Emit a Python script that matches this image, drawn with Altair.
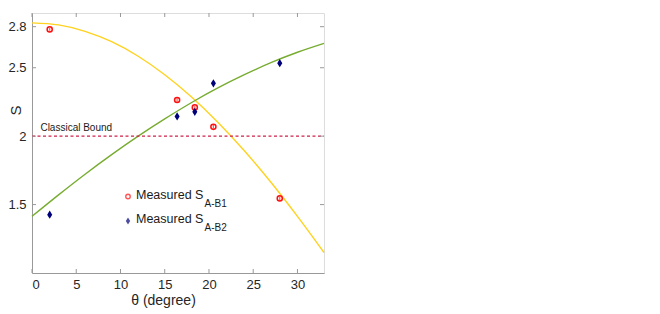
import altair as alt
import pandas as pd

# ---- data ----
theta_curve = [0, 3, 6, 9, 12, 15, 18, 21, 24, 27, 30, 33]
s_b1_curve = [2.828, 2.813, 2.766, 2.690, 2.584, 2.449, 2.288, 2.102, 1.893, 1.663, 1.414, 1.150]
s_b2_curve = [1.414, 1.571, 1.722, 1.865, 2.000, 2.126, 2.244, 2.352, 2.449, 2.537, 2.613, 2.678]

theta_meas = [2, 16.4, 18.4, 20.5, 28]
s_b1 = [2.78, 2.264, 2.21, 2.068, 1.545]
s_b1_err = [0.010, 0.013, 0.013, 0.013, 0.013]
s_b2 = [1.426, 2.144, 2.178, 2.386, 2.533]
s_b2_err = [0.013, 0.013, 0.013, 0.013, 0.013]

x_ticks = [0, 5, 10, 15, 20, 25, 30]
y_ticks = [1.5, 2, 2.5, 2.8]
classical_bound = 2

W, H = 292, 260
xs = alt.Scale(domain=[0, 33], nice=False, zero=False)
ys = alt.Scale(domain=[1, 2.9], nice=False, zero=False)

curves = pd.DataFrame({"theta": theta_curve, "b1": s_b1_curve, "b2": s_b2_curve})
meas = pd.DataFrame({
    "theta": theta_meas,
    "b1": s_b1, "b1_lo": [v - e for v, e in zip(s_b1, s_b1_err)], "b1_hi": [v + e for v, e in zip(s_b1, s_b1_err)],
    "b2": s_b2, "b2_lo": [v - e for v, e in zip(s_b2, s_b2_err)], "b2_hi": [v + e for v, e in zip(s_b2, s_b2_err)],
})
xt = pd.DataFrame({"t": x_ticks})
yt = pd.DataFrame({"t": y_ticks})
one = pd.DataFrame({"a": [0]})

x_axis = alt.Axis(values=x_ticks, tickSize=0, labelPadding=5, labelFontSize=13, labelColor="#262626",
                  domainColor="#999999", grid=False, title="θ (degree)", titleFontSize=14,
                  titleFontWeight="normal", titleColor="#262626", titleX=131, titleY=27,
                  titleBaseline="middle", titleAnchor="start", titleAlign="center", labelFont="Liberation Sans",
                  titleFont="Liberation Sans")
y_axis = alt.Axis(values=y_ticks, format="~g", tickSize=0, labelPadding=6, labelFontSize=13, labelColor="#262626",
                  domainColor="#999999", grid=False, title="S", titleFontSize=15,
                  titleFontWeight="normal", titleColor="#262626", titleX=-17, titleY=97,
                  titleBaseline="middle", titleAlign="center", titleAngle=-90, labelFont="Liberation Sans",
                  titleFont="Liberation Sans", labelFlush=False)

base = alt.Chart(curves)
yellow = base.mark_line(color="#FFD21F", strokeWidth=1.4, interpolate="monotone").encode(
    x=alt.X("theta:Q", scale=xs, axis=x_axis), y=alt.Y("b1:Q", scale=ys, axis=y_axis))
green = base.mark_line(color="#77AC30", strokeWidth=1.4, interpolate="monotone").encode(
    x=alt.X("theta:Q", scale=xs), y=alt.Y("b2:Q", scale=ys))

bound = alt.Chart(pd.DataFrame({"s": [classical_bound], "x0": [0], "x1": [33]})).mark_rule(
    color="#D0204A", strokeDash=[3, 2.5], strokeWidth=1.1).encode(
    x=alt.X("x0:Q", scale=xs), x2="x1:Q", y=alt.Y("s:Q", scale=ys))
bound_txt = alt.Chart(pd.DataFrame({"s": [classical_bound], "x0": [0.95], "t": ["Classical Bound"]})).mark_text(
    align="left", baseline="bottom", dy=-3, fontSize=10, font="Liberation Sans", color="#1a1a1a").encode(
    x=alt.X("x0:Q", scale=xs), y=alt.Y("s:Q", scale=ys), text="t:N")

mb = alt.Chart(meas)
err1 = mb.mark_rule(color="#FF6050", strokeWidth=1.2).encode(
    x=alt.X("theta:Q", scale=xs), y=alt.Y("b1_lo:Q", scale=ys), y2="b1_hi:Q")
pts1 = mb.mark_point(shape="circle", filled=False, color="#FF1010", strokeWidth=1.5, size=26, opacity=1).encode(
    x=alt.X("theta:Q", scale=xs), y=alt.Y("b1:Q", scale=ys))
err2 = mb.mark_rule(color="#6A88FF", strokeWidth=2.5).encode(
    x=alt.X("theta:Q", scale=xs), y=alt.Y("b2_lo:Q", scale=ys), y2="b2_hi:Q")
pts2 = mb.mark_point(shape="M0,-1.3L0.8,0L0,1.3L-0.8,0Z", filled=True, color="#00007A", size=40, opacity=1).encode(
    x=alt.X("theta:Q", scale=xs), y=alt.Y("b2:Q", scale=ys))

# inward tick marks on all four sides
tb = alt.Chart(xt).mark_rule(color="#999999", strokeWidth=1).encode(
    x=alt.X("t:Q", scale=xs), y=alt.value(H), y2=alt.value(H - 4))
tt = alt.Chart(xt).mark_rule(color="#999999", strokeWidth=1).encode(
    x=alt.X("t:Q", scale=xs), y=alt.value(0), y2=alt.value(4))
tl = alt.Chart(yt).mark_rule(color="#999999", strokeWidth=1).encode(
    y=alt.Y("t:Q", scale=ys), x=alt.value(0), x2=alt.value(4))
tr = alt.Chart(yt).mark_rule(color="#999999", strokeWidth=1).encode(
    y=alt.Y("t:Q", scale=ys), x=alt.value(W), x2=alt.value(W - 4))

# custom legend
lg = alt.Chart(one)
leg1 = lg.mark_point(shape="circle", filled=False, color="#FF1010", strokeWidth=1.4, size=20).encode(
    x=alt.value(96), y=alt.value(183.5))
leg2 = lg.mark_point(shape="M0,-1.3L0.8,0L0,1.3L-0.8,0Z", filled=True, color="#00007A", size=30).encode(
    x=alt.value(96), y=alt.value(208))
tfont = dict(font="Liberation Sans", color="#1a1a1a", align="left", baseline="middle")
lt1 = lg.mark_text(fontSize=12.5, **tfont).encode(x=alt.value(104), y=alt.value(182), text=alt.value("Measured S"))
ls1 = lg.mark_text(fontSize=10, **tfont).encode(x=alt.value(172.5), y=alt.value(191), text=alt.value("A-B1"))
lt2 = lg.mark_text(fontSize=12.5, **tfont).encode(x=alt.value(104), y=alt.value(206), text=alt.value("Measured S"))
ls2 = lg.mark_text(fontSize=10, **tfont).encode(x=alt.value(172.5), y=alt.value(215), text=alt.value("A-B2"))

chart = alt.layer(
    yellow, green, bound, bound_txt, tb, tt, tl, tr, err1, pts1, err2, pts2,
    leg1, leg2, lt1, ls1, lt2, ls2
).properties(
    width=W, height=H,
    autosize=alt.AutoSizeParams(type="none"),
    padding={"left": 24, "top": 5, "right": 10, "bottom": 40},
).configure_view(stroke="#999999", strokeWidth=1).configure(background="white")

chart.save("out.html", embed_options={"renderer": "svg", "actions": False})
